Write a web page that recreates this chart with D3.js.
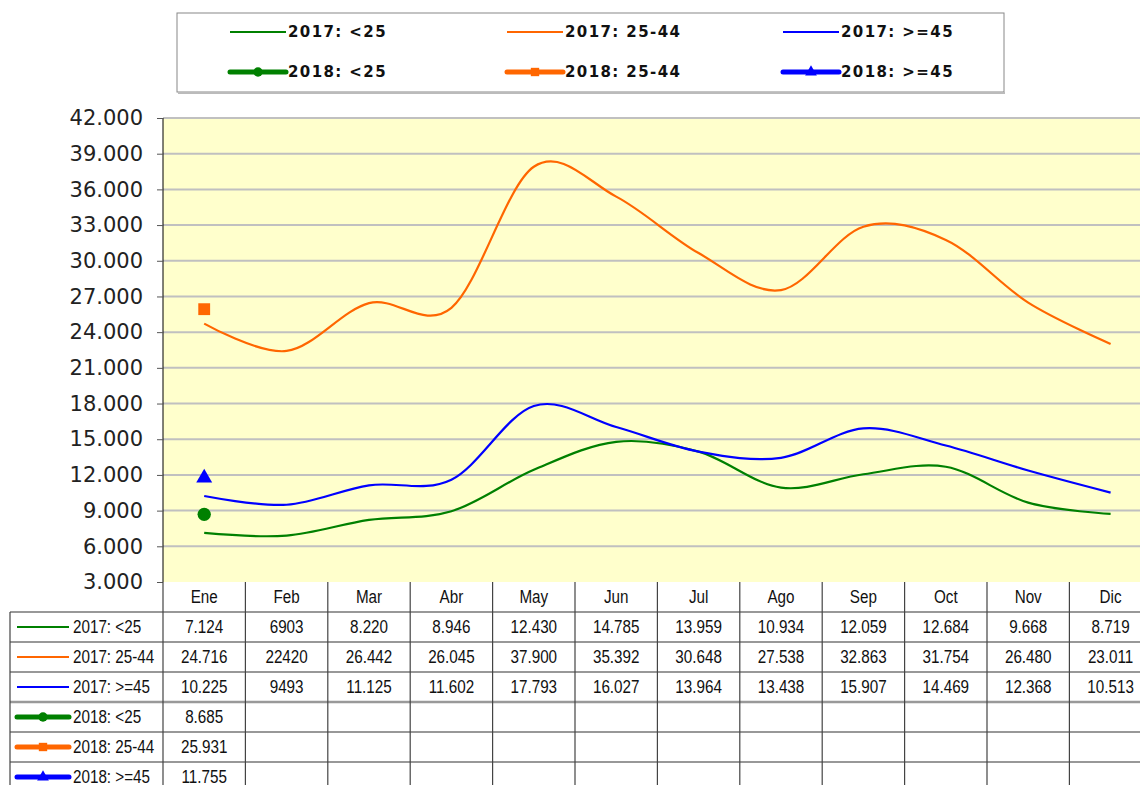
<!DOCTYPE html>
<html>
<head>
<meta charset="utf-8">
<script src="https://cdn.jsdelivr.net/npm/d3@7"></script>
<style>
	html, body { margin: 0; padding: 0; background: #fff; }
	svg { display: block; }
</style>
</head>
<body>
<svg width="1140" height="785"></svg>
<script>

// data, as printed in the table under the chart
const months = [ 'Ene', 'Feb', 'Mar', 'Abr', 'May', 'Jun', 'Jul', 'Ago', 'Sep', 'Oct', 'Nov', 'Dic' ],
	names = [ '2017: <25', '2017: 25-44', '2017: >=45', '2018: <25', '2018: 25-44', '2018: >=45' ],
	u25_2017 = [ '7.124', '6903', '8.220', '8.946', '12.430', '14.785', '13.959', '10.934', '12.059', '12.684', '9.668', '8.719' ],
	mid_2017 = [ '24.716', '22420', '26.442', '26.045', '37.900', '35.392', '30.648', '27.538', '32.863', '31.754', '26.480', '23.011' ],
	o45_2017 = [ '10.225', '9493', '11.125', '11.602', '17.793', '16.027', '13.964', '13.438', '15.907', '14.469', '12.368', '10.513' ],
	u25_2018 = [ '8.685' ],
	mid_2018 = [ '25.931' ],
	o45_2018 = [ '11.755' ],
	yTicks = [ 3000, 6000, 9000, 12000, 15000, 18000, 21000, 24000, 27000, 30000, 33000, 36000, 39000, 42000 ]

const colors = [ '#008000', '#ff6600', '#0000ff', '#008000', '#ff6600', '#0000ff' ],
	symbols = [ null, null, null, d3.symbolCircle, d3.symbolSquare, d3.symbolTriangle ],
	rows = [ u25_2017, mid_2017, o45_2017, u25_2018, mid_2018, o45_2018 ],
	toNum = s => +s.replace( '.', '' ),
	series = rows.map( ( r, i ) => ( { name: names[ i ], color: colors[ i ], symbol: symbols[ i ], labels: r, values: r.map( toNum ) } ) )

const svg = d3.select( 'svg' ),
	plotLeft = 163, plotTop = 118, plotBottom = 582,
	bandW = 82.4,
	rowH = 30,
	narrow = 0.87

const x = d3.scaleBand()
	.domain( months )
	.range( [ plotLeft, plotLeft + bandW * months.length ] )

const y = d3.scaleLinear()
	.domain( [ 3000, 42000 ] )
	.range( [ plotBottom, plotTop ] )

const fmt = d3.formatLocale( { decimal: ',', thousands: '.', grouping: [ 3 ] } ).format( ',d' )

// plot background
svg.append( 'rect' )
	.attr( 'x', plotLeft )
	.attr( 'y', plotTop )
	.attr( 'width', x.range()[ 1 ] - plotLeft )
	.attr( 'height', plotBottom - plotTop )
	.attr( 'fill', '#ffffcc' )

// gridlines
svg.append( 'g' )
	.selectAll( 'line' )
	.data( yTicks.filter( d => d > 3000 ) )
	.join( 'line' )
	.attr( 'x1', plotLeft )
	.attr( 'x2', x.range()[ 1 ] )
	.attr( 'y1', d => y( d ) )
	.attr( 'y2', d => y( d ) )
	.attr( 'stroke', '#c0c0c0' )
	.attr( 'stroke-width', 2 )

// y axis
const yAxis = svg.append( 'g' )
	.attr( 'transform', `translate(${plotLeft},0)` )
	.call( d3.axisLeft( y ).tickValues( yTicks ).tickSize( 6 ).tickPadding( 14 ).tickFormat( fmt ) )

yAxis.select( '.domain' ).attr( 'stroke', '#000' ).attr( 'd', `M0,${plotTop}V${plotBottom}` )
yAxis.selectAll( '.tick line' ).attr( 'stroke', '#555' )
yAxis.selectAll( 'text' )
	.attr( 'font-family', 'DejaVu Sans, Verdana, sans-serif' )
	.attr( 'font-size', 21 )
	.attr( 'fill', '#222' )

// lines
const line = d3.line()
	.x( ( d, i ) => x( months[ i ] ) + x.bandwidth() / 2 )
	.y( d => y( d ) )
	.curve( d3.curveCardinal.tension( 0 ) )

const plot = svg.append( 'g' )

plot.selectAll( 'path' )
	.data( series.filter( s => !s.symbol ) )
	.join( 'path' )
	.attr( 'd', d => line( d.values ) )
	.attr( 'fill', 'none' )
	.attr( 'stroke', d => d.color )
	.attr( 'stroke-width', 2.2 )

// 2018 markers
series.filter( s => s.symbol ).forEach( s => {

	plot.selectAll( null )
		.data( s.values )
		.join( 'path' )
		.attr( 'transform', ( d, i ) => `translate(${x( months[ i ] ) + x.bandwidth() / 2},${y( d )})` )
		.attr( 'd', d3.symbol().type( s.symbol ).size( s.symbol === d3.symbolTriangle ? 110 : 140 ) )
		.attr( 'fill', s.color )

})

// legend key drawing, used in legend and in the table
function key( g, s, x0, len ) {

	g.append( 'line' )
		.attr( 'x1', x0 ).attr( 'x2', x0 + len )
		.attr( 'stroke', s.color )
		.attr( 'stroke-width', s.symbol ? 5 : 2.2 )
		.attr( 'stroke-linecap', s.symbol ? 'round' : 'butt' )

	if ( s.symbol ) {
		g.append( 'path' )
			.attr( 'transform', `translate(${x0 + len / 2},0)` )
			.attr( 'd', d3.symbol().type( s.symbol ).size( s.symbol === d3.symbolTriangle ? 60 : 70 ) )
			.attr( 'fill', s.color )
	}

}

// legend box
svg.append( 'rect' )
	.attr( 'x', 177 ).attr( 'y', 13 )
	.attr( 'width', 827 ).attr( 'height', 79 )
	.attr( 'fill', '#fff' )
	.attr( 'stroke', '#888' )
	.attr( 'stroke-width', 1 )

svg.append( 'line' )
	.attr( 'x1', 178 ).attr( 'x2', 1005 )
	.attr( 'y1', 93 ).attr( 'y2', 93 )
	.attr( 'stroke', '#bbb' )
	.attr( 'stroke-width', 2 )

const legendCols = [ 230, 507, 783 ]

const legend = svg.append( 'g' )
	.selectAll( 'g' )
	.data( series )
	.join( 'g' )
	.attr( 'transform', ( d, i ) => `translate(0,${i < 3 ? 32 : 72})` )

legend.each( function( d, i ) {

	const g = d3.select( this ),
		lx = legendCols[ i % 3 ]

	key( g, d, lx, 56 )

	g.append( 'text' )
		.attr( 'x', lx + 58 )
		.attr( 'dy', '0.36em' )
		.attr( 'font-family', 'DejaVu Sans, Verdana, sans-serif' )
		.attr( 'font-weight', 'bold' )
		.attr( 'font-size', 15 )
		.attr( 'letter-spacing', 1.4 )
		.attr( 'fill', '#111' )
		.text( d.name )

})

// data table
const table = svg.append( 'g' )
	.attr( 'font-family', 'Liberation Sans Narrow, Arial Narrow, Liberation Sans, sans-serif' )
	.attr( 'font-size', 17.5 )
	.attr( 'fill', '#111' )

const tableTop = plotBottom,
	bodyTop = tableTop + rowH,
	tableBottom = bodyTop + rowH * series.length,
	tableRight = x.range()[ 1 ],
	labelLeft = 10

// header
table.selectAll( '.head' )
	.data( months )
	.join( 'text' )
	.attr( 'class', 'head' )
	.attr( 'transform', d => `translate(${x( d ) + x.bandwidth() / 2},${tableTop + rowH / 2}) scale(${narrow},1)` )
	.attr( 'dy', '0.36em' )
	.attr( 'text-anchor', 'middle' )
	.text( d => d )

// horizontal rules
const hLines = d3.range( series.length + 1 ).map( i => bodyTop + i * rowH )

table.selectAll( '.hrule' )
	.data( hLines )
	.join( 'line' )
	.attr( 'x1', labelLeft )
	.attr( 'x2', tableRight )
	.attr( 'y1', d => d )
	.attr( 'y2', d => d )
	.attr( 'stroke', ( d, i ) => i === 3 ? '#999' : '#333' )
	.attr( 'stroke-width', ( d, i ) => i === 3 ? 2.5 : 1.2 )

// vertical rules
table.selectAll( '.vrule' )
	.data( months.map( m => x( m ) ).concat( [ tableRight ] ) )
	.join( 'line' )
	.attr( 'x1', d => d )
	.attr( 'x2', d => d )
	.attr( 'y1', tableTop )
	.attr( 'y2', tableBottom )
	.attr( 'stroke', '#444' )
	.attr( 'stroke-width', 1.2 )

table.append( 'line' )
	.attr( 'x1', labelLeft ).attr( 'x2', labelLeft )
	.attr( 'y1', bodyTop ).attr( 'y2', tableBottom )
	.attr( 'stroke', '#444' )
	.attr( 'stroke-width', 1.2 )

// body rows
const rowG = table.selectAll( '.row' )
	.data( series )
	.join( 'g' )
	.attr( 'class', 'row' )
	.attr( 'transform', ( d, i ) => `translate(0,${bodyTop + i * rowH + rowH / 2})` )

rowG.each( function( d ) {

	const g = d3.select( this )

	key( g, d, 17, 52 )

	g.append( 'text' )
		.attr( 'transform', `translate(73,0) scale(${narrow},1)` )
		.attr( 'dy', '0.36em' )
		.text( d.name )

	g.selectAll( '.val' )
		.data( d.labels )
		.join( 'text' )
		.attr( 'class', 'val' )
		.attr( 'transform', ( v, i ) => `translate(${x( months[ i ] ) + x.bandwidth() / 2},0) scale(${narrow},1)` )
		.attr( 'dy', '0.36em' )
		.attr( 'text-anchor', 'middle' )
		.text( v => v )

})

</script>
</body>
</html>
